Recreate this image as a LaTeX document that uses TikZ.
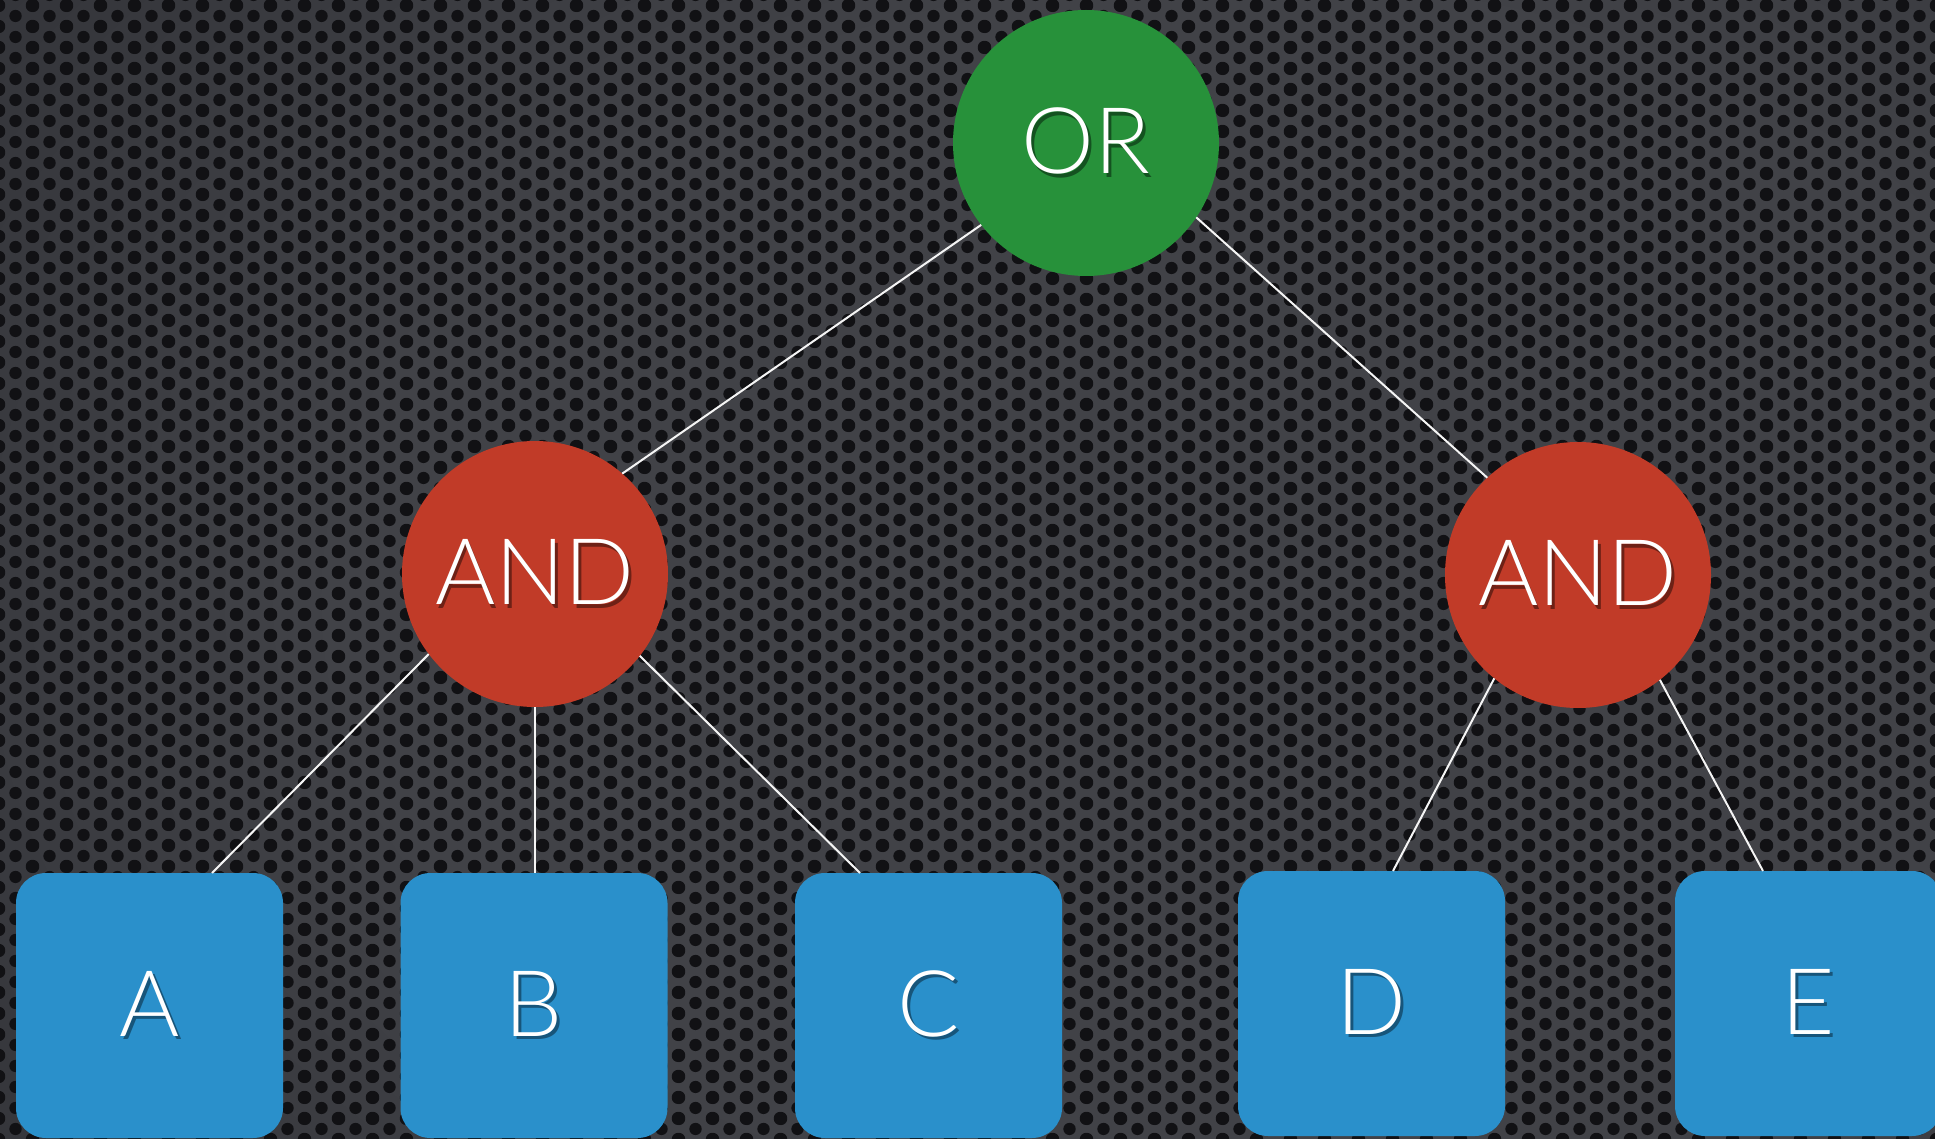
\documentclass[tikz,border=0pt]{standalone}
\usepackage{fontspec}
\newfontfamily\lbl{Lato Light}
\usetikzlibrary{calc,patterns}
\definecolor{bgC}{HTML}{414247}
\definecolor{bgM}{HTML}{313237}
\definecolor{bgD}{HTML}{17151C}
\definecolor{holecol}{HTML}{111114}
\definecolor{orgreen}{HTML}{27913A}
\definecolor{andred}{HTML}{C13B28}
\definecolor{leafblue}{HTML}{2A90CB}
\definecolor{shgreen}{HTML}{145220}
\definecolor{shred}{HTML}{6E2116}
\definecolor{shblue}{HTML}{17557A}
\pgfdeclareradialshading{bgshade}{\pgfpoint{0bp}{0bp}}{color(0bp)=(bgC); color(16bp)=(bgC); color(30bp)=(bgM); color(48bp)=(bgD); color(75bp)=(bgD)}
\pgfdeclarepatternformonly{holes}{\pgfpointorigin}{\pgfpoint{17pt}{10.5pt}}{\pgfpoint{17pt}{10.5pt}}{%
  \pgfpathcircle{\pgfpoint{0pt}{0pt}}{3.2pt}%
  \pgfpathcircle{\pgfpoint{17pt}{0pt}}{3.2pt}%
  \pgfpathcircle{\pgfpoint{0pt}{10.5pt}}{3.2pt}%
  \pgfpathcircle{\pgfpoint{17pt}{10.5pt}}{3.2pt}%
  \pgfpathcircle{\pgfpoint{8.5pt}{5.25pt}}{3.2pt}%
  \pgfusepath{fill}}
\newcommand\shtext[2]{\makebox[0pt][l]{\kern1.4pt\raisebox{-1.9pt}{\textcolor{#1}{#2}}}#2}
\tikzset{
  gate/.style={circle, minimum size=133pt, inner sep=0pt, outer sep=0pt, text=white,
    font=\lbl\fontsize{46pt}{46pt}\selectfont},
  orgate/.style={gate, fill=orgreen},
  andgate/.style={gate, fill=andred},
  leaf/.style={rectangle, rounded corners=15pt, minimum width=133.5pt, minimum height=132.5pt,
    inner sep=0pt, outer sep=0pt, fill=leafblue, text=white,
    font=\lbl\fontsize{46pt}{46pt}\selectfont},
  wire/.style={draw=white!92!gray, line width=1pt}
}
\begin{document}
\begin{tikzpicture}[x=0.5pt, y=-0.5pt]
\useasboundingbox (0,0) rectangle (1935,1139);
\clip (0,0) rectangle (1935,1139);
\shade[shading=bgshade] (-150,-350) rectangle (2600,1550);
\fill[pattern=holes, pattern color=holecol] (0,0) rectangle (1935,1139);

\node[orgate]  (or)   at (1086,143) {\shtext{shgreen}{OR}};
\node[andgate] (andL) at (535,574)  {\shtext{shred}{AND}};
\node[andgate] (andR) at (1578,575) {\shtext{shred}{AND}};

\node[leaf] (A) at (149.5,1005.5)  {\shtext{shblue}{A}};
\node[leaf] (B) at (534,1005.5)    {\shtext{shblue}{B}};
\node[leaf] (C) at (928.5,1005.5)  {\shtext{shblue}{C}};
\node[leaf] (D) at (1371.5,1003.5) {\shtext{shblue}{D}};
\node[leaf] (E) at (1808.5,1003.5) {\shtext{shblue}{E}};

\draw[wire] (or.218.3) -- (andL.49.2);
\draw[wire] (or.-34) -- (andR.133.5);
\draw[wire] (andL.217.5) -- ($(A.north)+(62.5,0)$);
\draw[wire] (andL.south) -- (andL.south |- B.north);
\draw[wire] (andL.322.9) -- ($(C.north)+(-68.5,0)$);
\draw[wire] (andR.231.9) -- ($(D.north)+(21.5,0)$);
\draw[wire] (andR.308.7) -- ($(E.north)+(-45.5,0)$);
\end{tikzpicture}
\end{document}
